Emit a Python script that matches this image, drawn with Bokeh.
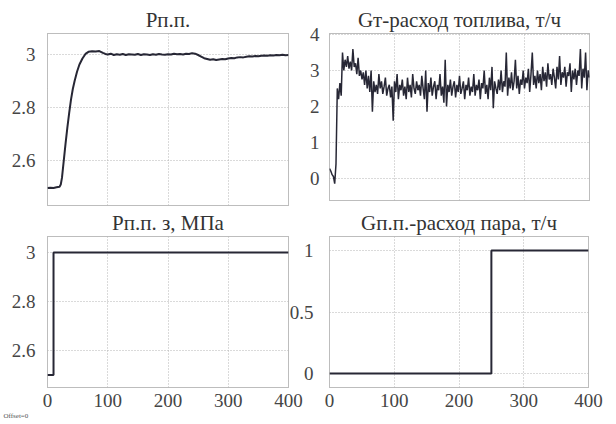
from bokeh.plotting import figure
from bokeh.layouts import column, row
from bokeh.models import Range1d, FixedTicker, Title
from bokeh.embed import file_html
from bokeh.resources import INLINE

# ---------------- data ----------------
x_ticks = [0, 100, 200, 300, 400]
x_tick_labels = ["0", "100", "200", "300", "400"]

# Рп.п. (measured steam pressure)
t_pressure = [0, 5, 10, 15, 20, 22, 24, 27, 30, 33, 36, 39, 42, 45, 49, 53, 58, 63, 68, 74,
              80, 86, 92, 96, 100, 105, 110, 115, 120, 125, 130, 135, 140, 145, 150, 155,
              160, 165, 170, 175, 180, 185, 190, 195, 200, 205, 210, 215, 220, 225, 230,
              235, 240, 245, 250, 255, 260, 265, 270, 275, 280, 285, 290, 295, 300, 305,
              310, 315, 320, 325, 330, 335, 340, 345, 350, 355, 360, 365, 370, 375, 380,
              385, 390, 395, 400]
pressure = [2.497, 2.498, 2.497, 2.500, 2.502, 2.510, 2.535, 2.600, 2.665, 2.725, 2.780,
            2.830, 2.870, 2.900, 2.935, 2.962, 2.985, 3.002, 3.010, 3.012, 3.011, 3.013,
            3.006, 3.002, 3.000, 3.003, 2.998, 3.001, 2.999, 3.002, 2.998, 3.001, 3.000,
            2.999, 3.002, 2.998, 3.001, 3.000, 2.998, 3.001, 2.999, 3.002, 3.000, 2.999,
            3.001, 3.000, 3.003, 3.001, 3.002, 3.000, 3.003, 3.002, 3.005, 3.003, 2.998,
            2.992, 2.986, 2.983, 2.980, 2.982, 2.979, 2.981, 2.983, 2.982, 2.985, 2.987,
            2.986, 2.989, 2.990, 2.989, 2.991, 2.993, 2.992, 2.994, 2.993, 2.995, 2.996,
            2.995, 2.997, 2.996, 2.998, 2.997, 2.999, 2.997, 2.998]
pressure_yticks = [2.6, 2.8, 3]
pressure_ylabels = ["2.6", "2.8", "3"]

# Gт - fuel flow, t/h (sampled every 2 s)
t_fuel = list(range(0, 401, 2))
fuel = [0.27, 0.20, 0.10, 0.05, -0.15, 0.40, 2.50, 2.20, 2.65, 2.30,
        3.50, 3.00, 3.30, 3.10, 3.40, 3.05, 3.25, 3.00, 3.60, 3.10,
        3.20, 2.90, 3.35, 2.85, 3.00, 2.75, 2.95, 2.60, 3.00, 2.50,
        2.85, 2.40, 3.00, 1.85, 2.70, 2.40, 2.60, 2.35, 2.90, 2.50,
        2.70, 2.35, 2.55, 2.80, 2.30, 2.50, 2.60, 2.25, 2.55, 1.60,
        2.70, 2.40, 2.90, 2.20, 2.60, 2.45, 2.75, 2.30, 2.55, 2.20,
        2.80, 2.40, 2.60, 2.25, 2.90, 2.50, 2.35, 2.70, 2.45, 2.60,
        2.30, 2.85, 2.50, 2.20, 3.00, 1.85, 2.65, 2.40, 2.80, 2.30,
        2.55, 2.70, 2.20, 2.60, 2.45, 2.90, 2.30, 2.55, 2.10, 3.30,
        2.00, 2.60, 2.40, 2.75, 2.30, 2.55, 2.70, 2.25, 2.60, 2.40,
        2.85, 2.35, 2.50, 2.70, 2.20, 2.60, 2.45, 2.80, 2.30, 2.55,
        2.40, 2.90, 2.30, 2.60, 2.45, 2.75, 2.20, 2.65, 2.50, 3.00,
        2.35, 2.60, 2.20, 2.80, 2.45, 3.10, 1.95, 2.70, 2.50, 2.35,
        2.75, 2.45, 3.00, 2.40, 2.70, 2.55, 3.50, 2.30, 2.80, 2.50,
        2.95, 2.45, 2.70, 3.30, 2.50, 2.85, 2.35, 2.75, 2.60, 3.00,
        2.50, 2.80, 2.65, 3.05, 2.40, 2.90, 3.50, 2.60, 2.85, 2.50,
        3.00, 2.65, 2.90, 2.45, 3.10, 2.70, 2.95, 2.55, 3.20, 2.75,
        2.90, 2.60, 3.05, 2.80, 2.50, 3.10, 2.75, 3.40, 2.60, 2.95,
        2.80, 3.10, 2.55, 2.95, 2.85, 3.20, 2.40, 3.00, 2.75, 3.05,
        2.60, 3.00, 2.85, 3.60, 2.50, 3.05, 2.80, 3.50, 2.45, 3.00,
        2.80]
fuel_yticks = [0, 1, 2, 3, 4]
fuel_ylabels = ["0", "1", "2", "3", "4"]

# Рп.п. з (pressure set point), MPa
t_setpoint = [0, 10, 400]
setpoint = [2.5, 3.0, 3.0]
setpoint_yticks = [2.6, 2.8, 3]
setpoint_ylabels = ["2.6", "2.8", "3"]

# Gп.п. - steam flow, t/h
t_steam = [0, 250, 400]
steam = [0, 1, 1]
steam_yticks = [0, 0.5, 1]
steam_ylabels = ["0", "0.5", "1"]

# ---------------- style ----------------
SERIF = "'Liberation Serif', serif"
LINE = "#272735"
GRID = "#b4b4b4"
TICK_TXT = "#454545"
TITLE_TXT = "#333333"


def make_panel(title, yr, yticks, ylabels, show_x, fw, fh, bl, br, bt, bb, ystand):
    p = figure(frame_width=fw, frame_height=fh, x_range=Range1d(0, 400),
               y_range=Range1d(*yr), output_backend="svg", toolbar_location=None,
               min_border_left=bl, min_border_right=br, min_border_top=bt,
               min_border_bottom=bb, title=title)
    p.border_fill_color = None
    p.background_fill_color = "white"
    p.outline_line_color = "#7a7a7a"
    p.outline_line_dash = "1 1"
    p.outline_line_width = 1
    p.title.text_font = SERIF
    p.title.text_font_size = "21px"
    p.title.text_font_style = "normal"
    p.title.text_color = TITLE_TXT
    p.title.align = "center"
    p.title.standoff = 3

    p.xaxis.ticker = FixedTicker(ticks=x_ticks)
    p.xgrid.ticker = FixedTicker(ticks=x_ticks)
    p.xaxis.major_label_overrides = dict(zip(x_ticks, x_tick_labels))
    p.yaxis.ticker = FixedTicker(ticks=yticks)
    p.ygrid.ticker = FixedTicker(ticks=yticks)
    p.yaxis.major_label_overrides = dict(zip(yticks, ylabels))

    for ax in (p.xaxis[0], p.yaxis[0]):
        ax.axis_line_color = None
        ax.major_tick_line_color = None
        ax.minor_tick_line_color = None
        ax.major_tick_out = 0
        ax.major_tick_in = 0
        ax.major_label_text_font = SERIF
        ax.major_label_text_font_size = "19px"
        ax.major_label_text_color = TICK_TXT
    p.yaxis.major_label_standoff = ystand
    p.xaxis.major_label_standoff = 6
    p.xaxis.visible = show_x

    for g in (p.xgrid[0], p.ygrid[0]):
        g.grid_line_color = GRID
        g.grid_line_dash = "1 2"
        g.grid_line_width = 1
    return p


p1 = make_panel("Рп.п.", (2.431, 3.079), pressure_yticks, pressure_ylabels, False,
                241, 172, 47, 18, 30, 5, 12)
p1.line(t_pressure, pressure, line_color=LINE, line_width=2)

p2 = make_panel("Gт-расход топлива, т/ч", (-0.62, 4.03), fuel_yticks, fuel_ylabels, False,
                260, 167, 20, 30, 33, 7, 10)
p2.line(t_fuel, fuel, line_color=LINE, line_width=1.5)

p3 = make_panel("Рп.п. з, МПа", (2.449, 3.065), setpoint_yticks, setpoint_ylabels, True,
                241, 151, 47, 18, 27, 39, 12)
p3.step(t_setpoint, setpoint, mode="after", line_color=LINE, line_width=2)
p3.add_layout(Title(text="Offset=0", align="left", offset=-44, standoff=0,
                    text_font=SERIF, text_font_size="7px", text_font_style="normal",
                    text_color="#555555"), "below")

p4 = make_panel("Gп.п.-расход пара, т/ч", (-0.114, 1.114), steam_yticks, steam_ylabels, True,
                259, 151, 43, 28, 26, 40, 16)
p4.step(t_steam, steam, mode="after", line_color=LINE, line_width=2)
p4.margin = (0, 0, 0, -20)

layout = column(row(p1, p2), row(p3, p4))
layout.margin = 0

with open("out.html", "w") as f:
    f.write(file_html(layout, INLINE))
